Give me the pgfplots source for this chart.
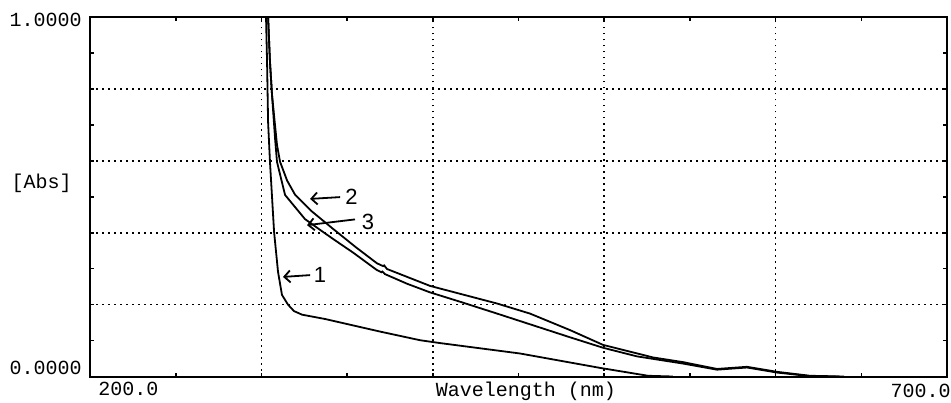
\documentclass[border=0pt]{standalone}
\usepackage{pgfplots}
\pgfplotsset{compat=1.18}
\usetikzlibrary{arrows.meta}
\usepackage{fontspec}
\setmainfont{Liberation Mono}
\newfontfamily\handfont{Liberation Sans}
\begin{document}
\begin{tikzpicture}
\useasboundingbox (-45pt,-12.75pt) rectangle (430.5pt,188.25pt);
\begin{axis}[
 at={(0,0)}, anchor=south west,
 scale only axis, width=428.5pt, height=179.75pt,
 xmin=200, xmax=700, ymin=0, ymax=1,
 xtick={200,300,400,500,600,700}, minor xtick={250,350,450,550,650},
 ytick={0,0.2,0.4,0.6,0.8,1}, minor ytick={0.1,0.3,0.5,0.7,0.9},
 xticklabels={}, yticklabels={},
 tick align=inside, major tick length=2pt, minor tick length=2pt,
 tick style={black, line width=0.8pt},
 xmajorgrids, ymajorgrids,
 major grid style={black, line width=0.8pt, dash pattern=on 0.8pt off 2.2pt},
 axis line style={line width=1pt},
 cycle list={{black, line width=0.9pt, no markers}},
]
% curve 1
\addplot[black, line width=0.9pt, no markers] coordinates {
(302.7,1.05) (302.7,1.0) (303.3,0.875) (303.9,0.708) (305.0,0.597) (307.4,0.402)
(309.7,0.291) (312.0,0.227) (315.5,0.200) (319.0,0.182) (323.7,0.172) (337.1,0.160)
(369.2,0.125) (392.5,0.101) (404.2,0.093) (450.9,0.064) (497.5,0.024) (525.6,0.002) (540,0.0)
};
% curve 2
\addplot[black, line width=0.9pt, no markers] coordinates {
(303.9,1.05) (303.9,1.0) (305.0,0.875) (306.2,0.783) (309.1,0.644) (310.9,0.597)
(315.0,0.545) (319.6,0.506) (329.5,0.459) (341.2,0.413) (355.0,0.360) (367.4,0.315)
(371.0,0.307) (371.6,0.309) (373.3,0.299) (398.4,0.252) (437.5,0.203) (456.7,0.175)
(480.1,0.129) (499.3,0.088) (528.5,0.053) (546.0,0.040) (565.8,0.021) (583.3,0.027)
(600.8,0.013) (620.1,0.002) (640,0.0)
};
% curve 3
\addplot[black, line width=0.9pt, no markers] coordinates {
(303.9,1.05) (303.9,1.0) (305.0,0.875) (306.2,0.783) (308.0,0.660) (309.1,0.597)
(313.8,0.505) (325.4,0.438) (334.2,0.408) (342.6,0.380) (353.4,0.345) (367.4,0.296)
(370.0,0.290) (370.6,0.292) (372.0,0.285) (385.0,0.258) (398.4,0.234) (415.9,0.208)
(437.5,0.175) (480.1,0.109) (499.3,0.080) (519.1,0.056) (546.0,0.036) (565.8,0.019)
(583.3,0.025) (600.8,0.011) (620.0,0.001) (635,0.0)
};
% annotations
\tikzset{ann/.style={line width=0.9pt,-{Straight Barb[length=3pt,width=6pt,line width=0.9pt]}}}
\draw[ann] (axis cs:345.9,0.499) -- (axis cs:328.4,0.494);
\node[font=\handfont\fontsize{11}{12}\selectfont] at (axis cs:352.5,0.499) {2};
\draw[ann] (axis cs:354.6,0.437) -- (axis cs:326.6,0.421);
\node[font=\handfont\fontsize{11}{12}\selectfont] at (axis cs:362.2,0.430) {3};
\draw[ann] (axis cs:328.4,0.282) -- (axis cs:312.6,0.277);
\node[font=\handfont\fontsize{11}{12}\selectfont] at (axis cs:334.2,0.282) {1};
\end{axis}
\begin{scope}[every node/.style={inner sep=0pt, font=\fontsize{10}{12}\selectfont}]
\node[anchor=east] at (-4pt,178.25pt) {1.0000};
\node[anchor=east] at (-4pt,4.25pt) {0.0000};
\node[anchor=east] at (-9pt,96.75pt) {[Abs]};
\node[anchor=base west] at (4pt,-9.25pt) {200.0};
\node[anchor=base east] at (430.5pt,-10.5pt) {700.0};
\node[anchor=base] at (218pt,-10pt) {Wavelength (nm)};
\end{scope}
\end{tikzpicture}
\end{document}
